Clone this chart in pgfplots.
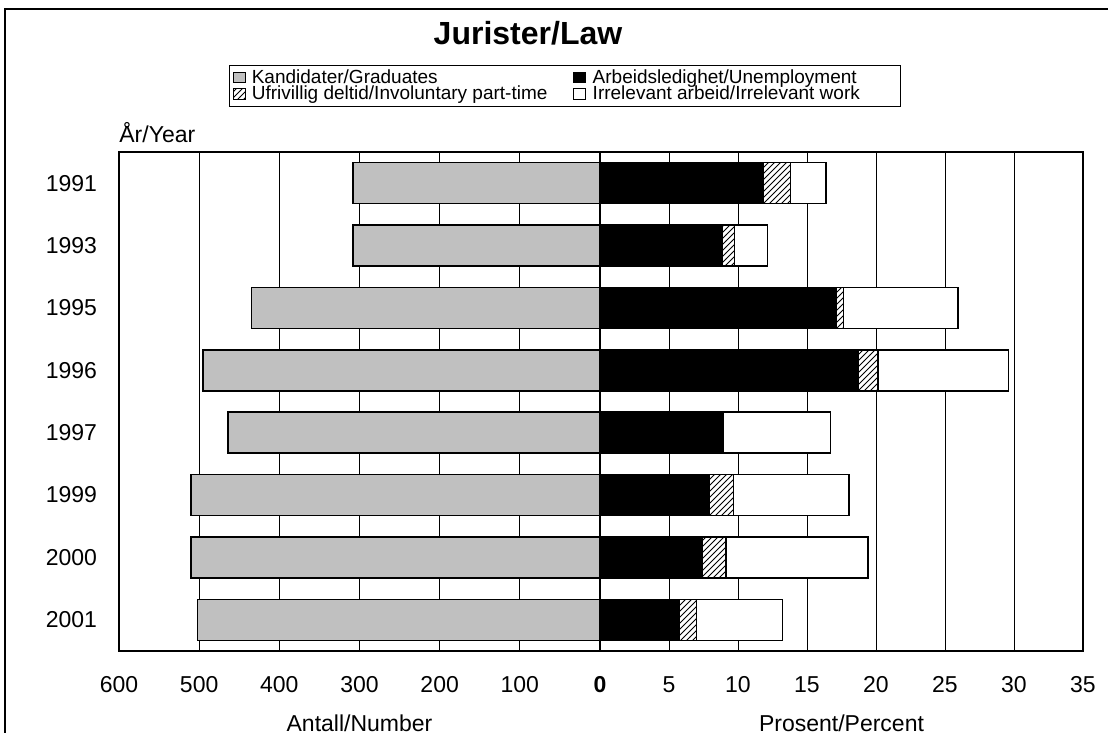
\documentclass[border=0pt]{standalone}
\usepackage{fontspec}
\setmainfont{Liberation Sans}
\usepackage{pgfplots}
\pgfplotsset{compat=1.18}
\usetikzlibrary{patterns}
\definecolor{grad}{RGB}{192,192,192}
\begin{document}
\begin{tikzpicture}
\useasboundingbox (0,0) rectangle (554pt,366.5pt);
\draw[line width=1pt] (2.5pt,-5pt) -- (2.5pt,362pt) -- (560pt,362pt);
\node[font=\bfseries\fontsize{16}{19}\selectfont] at (264pt,350pt) {Jurister/Law};
\node[anchor=west, inner sep=0pt, font=\fontsize{11.5}{13}\selectfont] at (59.5pt,300pt) {År/Year};
\pgfplotsset{common/.style={
  scale only axis, height=249.5pt, ymin=-0.5, ymax=7.5, y dir=reverse,
  bar width=20.5pt, xmajorgrids, grid style={black, line width=0.5pt},
  axis line style={line width=1pt}, tick style={black, line width=0.5pt},
  major tick length=2.5pt, tick align=inside, ytick style={draw=none},
  ticklabel style={font=\fontsize{11.5}{13}\selectfont},
  /pgf/number format/assume math mode=true,
  xticklabel style={yshift=-9pt, text height=8.4pt, text depth=0pt},
  label style={font=\fontsize{11.5}{13}\selectfont},
  every axis plot/.append style={draw=black, line width=0.75pt}}}
\begin{axis}[common, at={(59.5pt,41pt)}, anchor=south west, width=240.5pt,
  xbar, xmin=0, xmax=600, x dir=reverse,
  xtick={0,100,...,600}, xticklabels={\textbf{0},100,200,300,400,500,600},
  ytick={0,...,7}, yticklabels={1991,1993,1995,1996,1997,1999,2000,2001},
  yticklabel style={xshift=-5pt},
  xlabel={Antall/Number},
  xlabel style={at={(axis description cs:0.5,-0.144)}, anchor=center}]
\addplot[fill=grad] coordinates {(308,0) (308,1) (435,2) (495,3) (464,4) (510,5) (510,6) (502,7)};
\end{axis}
\begin{axis}[common, at={(300pt,41pt)}, anchor=south west, width=241.5pt,
  xbar stacked, xmin=0, xmax=35,
  xtick={0,5,...,35}, xticklabels={,5,10,15,20,25,30,35},
  ytick=\empty,
  xlabel={Prosent/Percent},
  xlabel style={at={(axis description cs:0.5,-0.144)}, anchor=center},
  legend columns=2,
  legend cell align=left,
  legend image code/.code={\draw[#1, line width=0.5pt] (0pt,-2.6pt) rectangle (6pt,2.6pt); \path (8pt,0pt);},
  legend style={at={(axis description cs:-0.768,1.174)}, anchor=north west,
    draw=black, line width=0.5pt, font=\fontsize{9.5}{9.5}\selectfont,
    inner xsep=1.5pt, inner ysep=1pt, row sep=-1.8pt,
    nodes={inner ysep=0.8pt, inner xsep=1pt},
    /tikz/every even column/.append style={column sep=12pt}}]
\addlegendimage{fill=grad, draw=black}
\addplot[fill=black] coordinates {(11.8,0) (8.87,1) (17.1,2) (18.7,3) (8.9,4) (7.91,5) (7.4,6) (5.75,7)};
\addplot[fill=white, postaction={pattern=north east lines}] coordinates {(2.0,0) (0.87,1) (0.55,2) (1.45,3) (0,4) (1.76,5) (1.72,6) (1.26,7)};
\addplot[fill=white] coordinates {(2.58,0) (2.39,1) (8.28,2) (9.45,3) (7.81,4) (8.38,5) (10.3,6) (6.21,7)};
\legend{Kandidater/Graduates, Arbeidsledighet/Unemployment, Ufrivillig deltid/Involuntary part-time, Irrelevant arbeid/Irrelevant work\rule{18pt}{0pt}}
\end{axis}
\end{tikzpicture}
\end{document}
